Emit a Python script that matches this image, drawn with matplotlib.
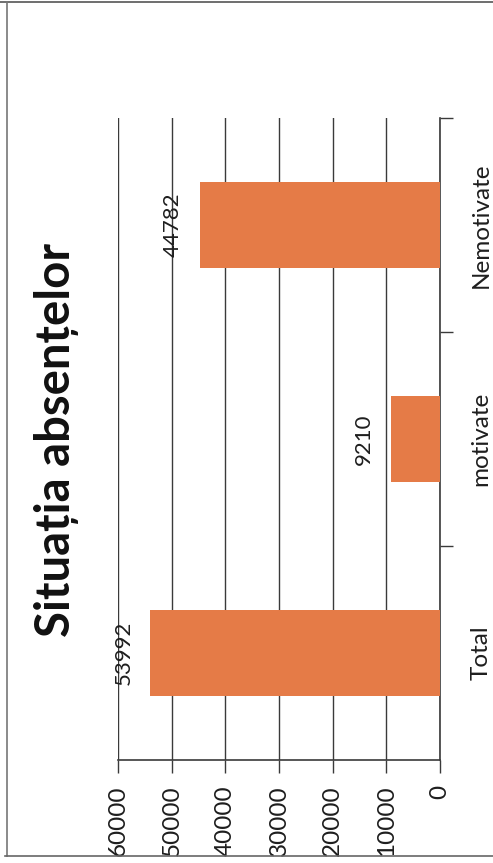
import matplotlib.pyplot as plt
from matplotlib.lines import Line2D

# --- data ---
categories = ["Total", "motivate", "Nemotivate"]
values = [53992, 9210, 44782]
value_ticks = [0, 10000, 20000, 30000, 40000, 50000, 60000]
title = "Situația absențelor"

bar_color = "#E57B47"
grid_color = "#3a3a3a"
text_color = "#1e1e1e"

plt.rcParams['font.family'] = ['Lato', 'DejaVu Sans']

W, H = 493, 863
fig = plt.figure(figsize=(W / 100, H / 100), dpi=100)
fig.patch.set_facecolor("white")

# chart is stored rotated by 90 degrees: values run right -> left
ax = fig.add_axes([118 / W, (H - 760) / H, (440 - 118) / W, (760 - 118) / H])
pos = list(range(len(categories)))
ax.barh(pos, values, height=0.4, color=bar_color, zorder=3)

ax.set_xlim(60000, 0)
ax.set_ylim(-0.5, len(categories) - 0.5)
ax.set_xticks(value_ticks)
ax.set_xticklabels([str(v) for v in value_ticks], rotation=90, fontsize=17.5,
                   color=text_color)
ax.tick_params(axis='x', direction='out', length=9, width=1, color=grid_color,
               pad=9)
ax.grid(axis='x', color=grid_color, linewidth=1, zorder=0)

# category axis on the right
ax.yaxis.tick_right()
ax.set_yticks(pos)
ax.set_yticklabels(categories, rotation=90, va='center', fontsize=17.5,
                   color=text_color)
ax.tick_params(axis='y', which='major', length=0, pad=22)
ax.set_yticks([p + 0.5 for p in pos], minor=True)
ax.tick_params(axis='y', which='minor', direction='out', length=9, width=1,
               color=grid_color)

for s in ['left', 'top']:
    ax.spines[s].set_visible(False)
for s in ['right', 'bottom']:
    ax.spines[s].set_color(grid_color)
    ax.spines[s].set_linewidth(1.2)

for p, v in zip(pos, values):
    ax.annotate(str(v), (v, p), xytext=(-12, 0), textcoords='offset points',
                rotation=90, ha='right', va='center', fontsize=16,
                color=text_color, zorder=4)

fig.text(57 / W, 1 - 440 / H, title, rotation=90, ha='center', va='center',
         fontsize=34, fontweight='bold', color="#111111")

# scan frame
fig.add_artist(Line2D([0, 1], [1 - 2 / H, 1 - 2 / H], color="#555555", lw=1.2))
fig.add_artist(Line2D([7 / W, 7 / W], [1 - 2 / H, 1 - 856 / H], color="#777777", lw=1.2))
fig.add_artist(Line2D([5 / W, 1], [1 - 856 / H, 1 - 856 / H], color="#666666", lw=1.2))

fig.savefig("out.png", dpi=100)
